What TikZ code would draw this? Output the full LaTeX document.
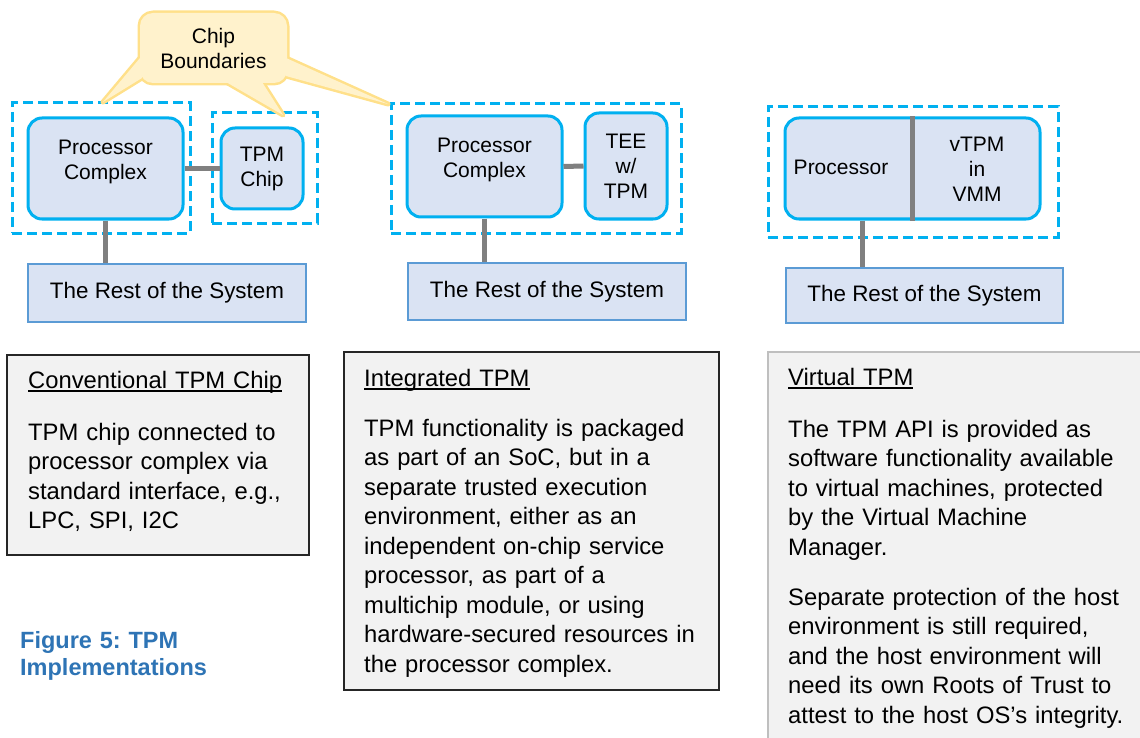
\documentclass[tikz,border=0pt]{standalone}
\usepackage{fontspec}
\setmainfont{Liberation Sans}
\usetikzlibrary{positioning}

\definecolor{chipcyan}{HTML}{00B0F0}
\definecolor{procfill}{HTML}{DAE3F3}
\definecolor{restline}{HTML}{5B9BD5}
\definecolor{linkgray}{HTML}{808080}
\definecolor{notefill}{HTML}{F2F2F2}
\definecolor{noteline}{HTML}{262626}
\definecolor{vnoteline}{HTML}{BFBFBF}
\definecolor{callfill}{HTML}{FFF2CC}
\definecolor{callline}{HTML}{FFE08A}
\definecolor{figblue}{HTML}{2E74B5}

\newcommand{\hdline}[1]{\leavevmode\setbox0\hbox{#1}\rlap{\rule[-3.5pt]{\wd0}{1.4pt}}\box0}

\tikzset{
  chipedge/.style={draw=chipcyan, line width=3pt, dash pattern=on 10pt off 5pt, inner sep=0pt},
  procbox/.style={draw=chipcyan, fill=procfill, line width=3pt, rounded corners=14pt, inner sep=0pt},
  restbox/.style={draw=restline, fill=procfill, line width=2pt, inner sep=0pt,
    font=\fontsize{22.4}{25}\selectfont},
  boxtext/.style={align=center, inner sep=0pt, font=\fontsize{21}{25}\selectfont},
  link/.style={draw=linkgray, line width=5pt},
  notebox/.style={draw=noteline, fill=notefill, line width=1.5pt},
  notetext/.style={anchor=base west, inner sep=0pt, text width=400pt, align=left,
    font=\fontsize{23.8}{29.5}\selectfont\frenchspacing},
}

\begin{document}
\begin{tikzpicture}[x=1pt,y=-1pt]
\useasboundingbox (0,0) rectangle (1140,738);
\clip (0,0) rectangle (1140,738);

% conventional TPM chip
\node (dash1) [chipedge, minimum width=178pt, minimum height=130pt] at (101,168) {};
\node (dash2) [chipedge, minimum width=105pt, minimum height=110pt] at (264.5,168) {};
\node (pc1) [procbox, minimum width=155pt, minimum height=101pt] at (105.5,168.5) {};
\node (tpm1) [procbox, minimum width=82pt, minimum height=81pt] at (262,168.5) {};
\node (rest1) [restbox, minimum width=278pt, minimum height=58pt] at (167,293) {The Rest of the System};
\draw[link] (pc1.east) -- (tpm1.west);
\draw[link] (pc1.south) -- (pc1.south |- rest1.north);
\node[boxtext] at ([yshift=7pt]pc1.center) {Processor\\Complex};
\node[boxtext] at (tpm1.center) {TPM\\Chip};

% integrated TPM
\node (dash3) [chipedge, minimum width=290pt, minimum height=129pt] at (536,168.5) {};
\node (pc2) [procbox, minimum width=155pt, minimum height=101pt] at (484.5,166.5) {};
\node (tee) [procbox, minimum width=82pt, minimum height=106pt] at (626,166) {};
\node (rest2) [restbox, minimum width=278pt, minimum height=57pt] at (547,291.5) {The Rest of the System};
\draw[link] (pc2.east) -- (tee.west);
\draw[link] (pc2.south) -- (pc2.south |- rest2.north);
\node[boxtext] at ([yshift=7pt]pc2.center) {Processor\\Complex};
\node[boxtext] at (tee.center) {TEE\\w/\\TPM};

% virtual TPM
\node (dash4) [chipedge, minimum width=290pt, minimum height=130pt] at (913,172) {};
\node (vbox) [procbox, minimum width=255pt, minimum height=101pt] at (912.5,168.5) {};
\node (rest3) [restbox, minimum width=277pt, minimum height=55pt] at (924.5,295.5) {The Rest of the System};
\draw[link] (vbox.north) -- (vbox.south);
\draw[link] ([xshift=-50.5pt]vbox.south) -- ([xshift=-50.5pt]vbox.south |- rest3.north);
\node[boxtext] at (841,167.5) {Processor};
\node[boxtext] at (977,169.5) {vTPM\\in\\VMM};

% callout
\coordinate (tipL) at (103,102);
\coordinate (tipM) at (283,115);
\coordinate (tipR) at (388,104);
\begin{scope}[line width=5pt, line join=round]
  \draw[callline] (140,58) -- (tipL) -- (142,78) -- cycle;
  \draw[callline] (226,82) -- (tipM) -- (262,82) -- cycle;
  \draw[callline] (286,58) -- (tipR) -- (286,76) -- cycle;
  \draw[callline, rounded corners=13pt] (140,13) rectangle (287,83);
  \fill[callfill] (140,58) -- (tipL) -- (142,78) -- cycle;
  \fill[callfill] (226,82) -- (tipM) -- (262,82) -- cycle;
  \fill[callfill] (286,58) -- (tipR) -- (286,76) -- cycle;
  \fill[callfill, rounded corners=13pt] (140,13) rectangle (287,83);
\end{scope}
\node (callout) [boxtext] at (213.5,48) {Chip\\Boundaries};

% notes
\node (note1) [notebox, minimum width=302pt, minimum height=200pt] at (158,455) {};
\node (note2) [notebox, minimum width=375pt, minimum height=338pt] at (531.5,521) {};
\node (note3) [notebox, draw=vnoteline, line width=2pt, minimum width=400pt, minimum height=420pt] at (968,562) {};

\node (head1) [notetext] at (28,388) {\hdline{Conventional TPM Chip}};
\node (body1) [notetext] at (28,440) {TPM chip connected to\\processor complex via\\standard interface, e.g.,\\LPC, SPI, I2C};

\node (head2) [notetext] at (364,386) {\hdline{Integrated TPM}};
\node (body2) [notetext] at (364,436) {TPM functionality is packaged\\as part of an SoC, but in a\\separate trusted execution\\environment, either as an\\independent on-chip service\\processor, as part of a\\multichip module, or using\\hardware-secured resources in\\the processor complex.};

\node (head3) [notetext] at (788,385) {\hdline{Virtual TPM}};
\node (body3) [notetext] at (788,437) {The TPM API is provided as\\software functionality available\\to virtual machines, protected\\by the Virtual Machine\\Manager.\\[20.5pt]Separate protection of the host\\environment is still required,\\and the host environment will\\need its own Roots of Trust to\\attest to the host OS’s integrity.};

\node (caption) [notetext, text=figblue, font=\fontsize{23.5}{27}\selectfont\bfseries\frenchspacing] at (20,648) {Figure 5: TPM\\Implementations};
\end{tikzpicture}
\end{document}
